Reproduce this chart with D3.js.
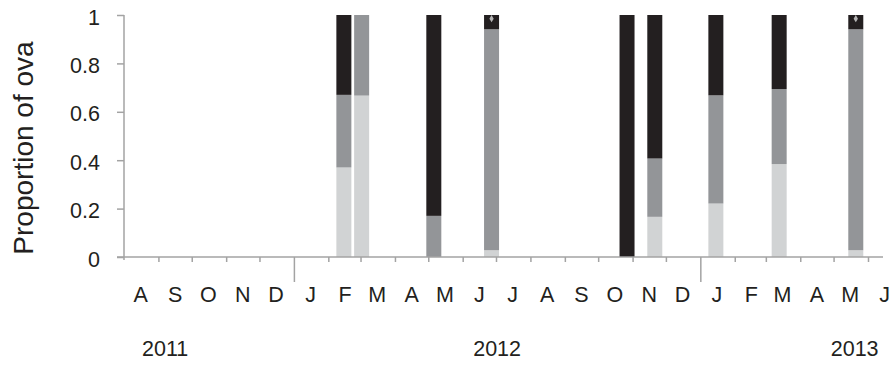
<!DOCTYPE html>
<html>
<head>
<meta charset="utf-8">
<script src="https://cdn.jsdelivr.net/npm/d3@7"></script>
<style>
  html, body { margin: 0; padding: 0; background: #fff; }
  svg { display: block; font-family: "Liberation Sans", Arial, sans-serif; }
</style>
</head>
<body>
<svg id="chart" width="891" height="366"></svg>
<script>
// Sampling dates and the proportion of ova in each of three stages
const sampleDates = ["2012-02-15", "2012-03-02", "2012-05-06", "2012-06-27",
                     "2012-10-27", "2012-11-21", "2013-01-15", "2013-03-13", "2013-05-21"];
const lightStage = [0.37, 0.667, 0.00, 0.028, 0.00, 0.166, 0.221, 0.384, 0.028];
const midStage   = [0.30, 0.333, 0.17, 0.913, 0.00, 0.241, 0.447, 0.310, 0.913];
const darkStage  = [0.33, 0.000, 0.83, 0.059, 1.00, 0.593, 0.332, 0.306, 0.059];

// Samples carrying a small marker at the top of the bar
const markedDates = ["2012-06-27", "2013-05-21"];
const markedValue = [0.985, 0.985];

const monthLabels = ["A","S","O","N","D","J","F","M","A","M","J","J",
                     "A","S","O","N","D","J","F","M","A","M","J"];
const yearLabels = ["2011", "2012", "2013"];
const yearLabelDates = ["2011-09-07", "2012-07-02", "2013-05-20"];
const yTicks = [0, 0.2, 0.4, 0.6, 0.8, 1];
const yTickLabels = ["0", "0.2", "0.4", "0.6", "0.8", "1"];

const colors = { light: "#d1d3d4", mid: "#939598", dark: "#231f20" };
const axisColor = "#a3a3a3";

const parse = d3.timeParse("%Y-%m-%d");
const svg = d3.select("#chart");

const x0 = 124, yTop = 15, yBottom = 257, axisEnd = 883;
const start = new Date(2011, 7, 1), end = new Date(2013, 6, 1);
const pxPerDay = 744 / 670;
const x = d3.scaleTime()
  .domain([start, end])
  .range([x0, x0 + d3.timeDay.count(start, end) * pxPerDay]);
const y = d3.scaleLinear().domain([0, 1]).range([yBottom, yTop]);

const rows = sampleDates.map((d, i) => ({
  date: parse(d), light: lightStage[i], mid: midStage[i], dark: darkStage[i]
}));
const stack = d3.stack().keys(["light", "mid", "dark"]);
const layers = stack(rows);
const barW = 15;

svg.append("g").selectAll("g")
  .data(layers)
  .join("g")
  .attr("fill", d => colors[d.key])
  .selectAll("rect")
  .data(d => d.filter(s => s[1] - s[0] > 0))
  .join("rect")
  .attr("x", s => x(s.data.date) - barW / 2)
  .attr("width", barW)
  .attr("y", s => y(s[1]))
  .attr("height", s => y(s[0]) - y(s[1]));

// small markers at the top of two bars
svg.append("g").selectAll("path")
  .data(markedDates.map((d, i) => ({ date: parse(d), v: markedValue[i] })))
  .join("path")
  .attr("transform", d => `translate(${x(d.date)},${y(d.v)})`)
  .attr("d", d3.symbol(d3.symbolDiamond, 16))
  .attr("fill", "#b4b4b4");

// y axis
const yAxis = d3.axisLeft(y)
  .tickValues(yTicks)
  .tickFormat((d, i) => yTickLabels[i])
  .tickSize(7)
  .tickSizeOuter(0);
const gy = svg.append("g").attr("transform", `translate(${x0},0)`).call(yAxis);
gy.select(".domain").attr("stroke", axisColor).attr("stroke-width", 1.5)
  .attr("d", `M0,${yTop}V${yBottom + 3}`);
gy.selectAll(".tick line").attr("stroke", axisColor).attr("stroke-width", 1.5);
gy.selectAll(".tick text")
  .attr("x", -24).attr("dy", "0.42em")
  .attr("font-size", 21.5).attr("fill", "#231f20")
  .attr("font-family", "Liberation Sans, Arial, sans-serif");

// x axis: month ticks, with longer ticks at each new year
const monthStarts = d3.timeMonth.range(d3.timeMonth.offset(start, 1), end);
const xAxis = d3.axisBottom(x)
  .tickValues(monthStarts)
  .tickFormat("")
  .tickSize(5)
  .tickSizeOuter(0);
const gx = svg.append("g").attr("transform", `translate(0,${yBottom})`).call(xAxis);
gx.select(".domain").attr("stroke", axisColor).attr("stroke-width", 1.5)
  .attr("d", `M${x0 - 7},0H${axisEnd}`);
gx.selectAll(".tick line").attr("stroke", axisColor).attr("stroke-width", 1.5)
  .attr("y2", d => d.getMonth() === 0 ? 25 : 5);

// month letters centred on each month
const monthMids = d3.timeMonth.range(start, end).map(d => new Date(d.getFullYear(), d.getMonth(), 16));
svg.append("g").selectAll("text")
  .data(monthLabels)
  .join("text")
  .attr("x", (d, i) => x(monthMids[i]))
  .attr("y", 301.5)
  .attr("text-anchor", "middle")
  .attr("font-size", 21.5)
  .attr("fill", "#231f20")
  .text(d => d);

// year labels
svg.append("g").selectAll("text")
  .data(yearLabels)
  .join("text")
  .attr("x", (d, i) => x(parse(yearLabelDates[i])))
  .attr("y", 355.5)
  .attr("text-anchor", "middle")
  .attr("font-size", 21.5)
  .attr("fill", "#231f20")
  .text(d => d);

// y axis title
svg.append("text")
  .attr("transform", `translate(33,${(yTop + yBottom) / 2 + 12}) rotate(-90)`)
  .attr("text-anchor", "middle")
  .attr("font-size", 28)
  .attr("fill", "#231f20")
  .text("Proportion of ova");
</script>
</body>
</html>
